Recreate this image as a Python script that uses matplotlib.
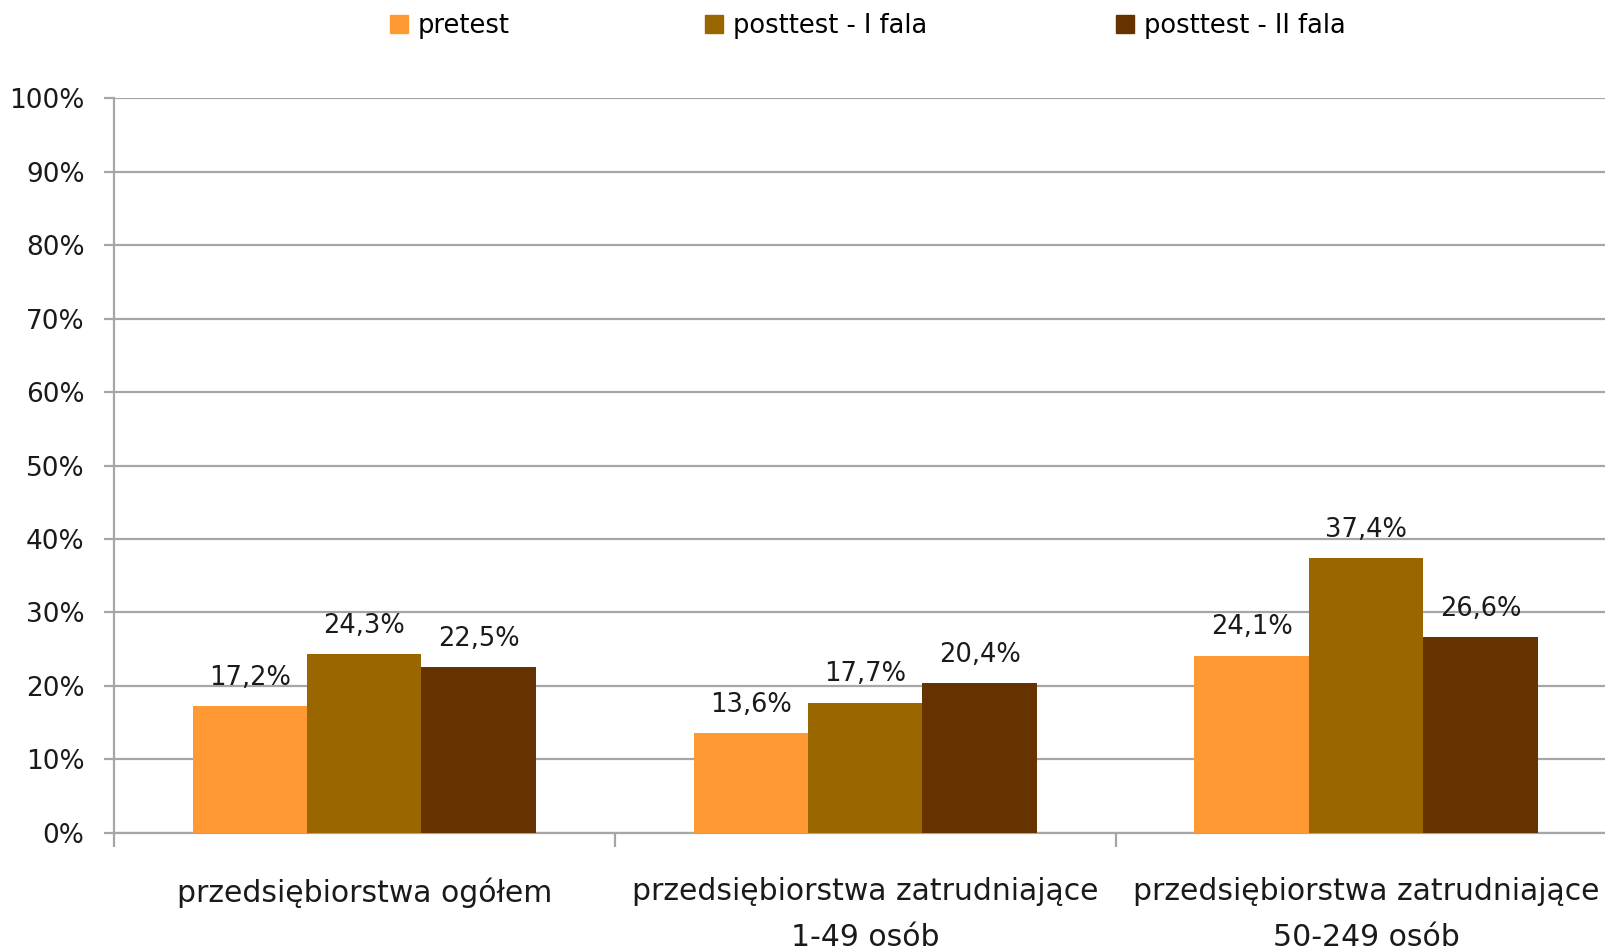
import matplotlib
matplotlib.use("Agg")
import matplotlib.pyplot as plt
import matplotlib.patches as mpatches
import matplotlib.transforms as mtransforms
import numpy as np

# ── Data ──────────────────────────────────────────────────────────
categories = [
    "przedsiębiorstwa ogółem",
    "przedsiębiorstwa zatrudniające\n1-49 osób",
    "przedsiębiorstwa zatrudniające\n50-249 osób",
]
series_names = ["pretest", "posttest - I fala", "posttest - II fala"]
pretest = [17.2, 13.6, 24.1]
posttest_1 = [24.3, 17.7, 37.4]
posttest_2 = [22.5, 20.4, 26.6]
y_ticks = [0, 10, 20, 30, 40, 50, 60, 70, 80, 90, 100]

colors = ["#FF9933", "#996600", "#663300"]
grid_col = "#A6A6A6"

plt.rcParams["font.family"] = ["DejaVu Sans"]
FS = 18.5

# ── Layout ────────────────────────────────────────────────────────
fig = plt.figure(figsize=(16.06, 9.51), dpi=100, facecolor="white")
ax = fig.add_axes([0.0708, 0.1244, 1.0066 - 0.0708, 0.7722])

n = len(categories)
x = np.arange(n) + 0.5
bw = 0.2284
for i, (vals, name, col) in enumerate(zip([pretest, posttest_1, posttest_2], series_names, colors)):
    xs = x + (i - 1) * bw
    ax.bar(xs, vals, width=bw, color=col, edgecolor="none", zorder=3, label=name)
    for xi, v in zip(xs, vals):
        ax.annotate(f"{v:.1f}%".replace(".", ","), (xi, v), xytext=(0, 11),
                    textcoords="offset points", ha="center", va="bottom",
                    fontsize=FS, color="#1a1a1a")

ax.set_xlim(0, n)
ax.set_ylim(0, 100)
ax.set_yticks(y_ticks)
ax.set_yticklabels([f"{t}%" for t in y_ticks], fontsize=FS + 0.5, color="#1a1a1a")
ax.yaxis.grid(True, color=grid_col, lw=1.6, zorder=0)
ax.set_xticks(np.arange(n + 1))
ax.set_xticklabels([])
ax.tick_params(axis="y", length=7, width=1.6, color=grid_col, pad=14)
ax.tick_params(axis="x", length=10, width=1.6, color=grid_col)
for s in ["top", "right"]:
    ax.spines[s].set_visible(False)
for s in ["left", "bottom"]:
    ax.spines[s].set_color(grid_col)
    ax.spines[s].set_linewidth(1.6)

# category labels, top aligned
trans = mtransforms.blended_transform_factory(ax.transData, fig.transFigure)
for xi, lab in zip(x, categories):
    ax.text(xi, 1 - 877 / 951, lab, transform=trans, ha="center", va="top",
            fontsize=21.5, color="#1a1a1a", linespacing=1.72)

# ── Legend (one entry each, placed like the original) ────────────
leg_x = [377 / 1606, 692 / 1606, 1103 / 1606]
for lx, name, col in zip(leg_x, series_names, colors):
    h = mpatches.Patch(color=col, label=name)
    fig.legend(handles=[h], loc="center left", bbox_to_anchor=(lx, 1 - 26 / 951),
               frameon=False, fontsize=FS, handlelength=0.7, handleheight=0.7,
               handletextpad=0.4, borderpad=0)

fig.savefig("out.png", dpi=100, facecolor="white")
